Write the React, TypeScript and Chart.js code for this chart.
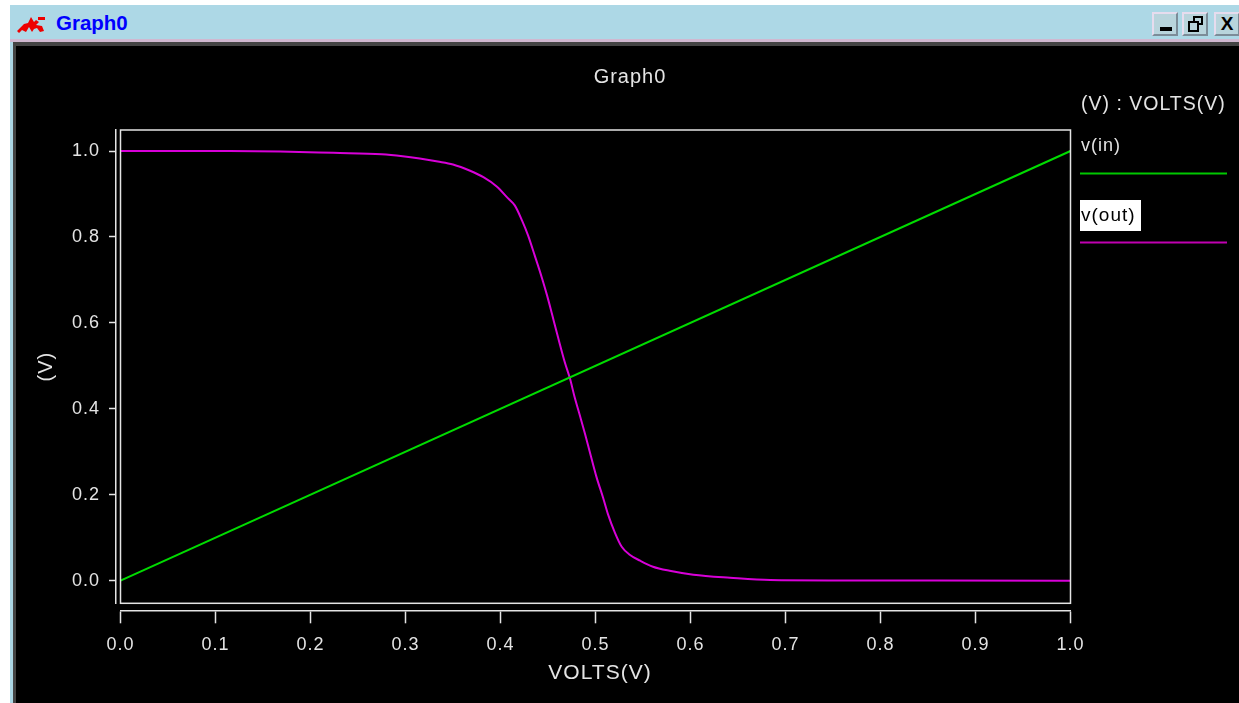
import React, { useEffect, useRef } from "react";
import { Chart, registerables } from "chart.js";

Chart.register(...registerables);

const windowTitle = "Graph0";
const chartTitle = "Graph0";
const xAxisTitle = "VOLTS(V)";
const yAxisTitle = "(V)";
const unitsLabel = "(V) : VOLTS(V)";
const xTicks = [0, 0.1, 0.2, 0.3, 0.4, 0.5, 0.6, 0.7, 0.8, 0.9, 1.0];
const yTicks = [0, 0.2, 0.4, 0.6, 0.8, 1.0];

const vInX = [0, 1];
const vInY = [0, 1];

const vOutX = [
  0, 0.115, 0.168, 0.224, 0.275, 0.297, 0.315, 0.334, 0.35, 0.368, 0.382, 0.396, 0.408, 0.415, 0.4226, 0.429,
  0.436, 0.4437, 0.449, 0.454, 0.4605, 0.468, 0.473, 0.478, 0.484, 0.489, 0.494, 0.501, 0.508, 0.513, 0.5205,
  0.5276, 0.536, 0.547, 0.5605, 0.578, 0.603, 0.6416, 0.684, 0.757, 1.0,
];
const vOutY = [
  1.0, 1.0, 0.999, 0.9958, 0.9926, 0.988, 0.9826, 0.9756, 0.9686, 0.954, 0.939, 0.9175, 0.8897, 0.8734, 0.8386,
  0.8037, 0.757, 0.704, 0.664, 0.6225, 0.567, 0.506, 0.4715, 0.4274, 0.381, 0.3415, 0.2997, 0.2416, 0.193, 0.1556,
  0.1115, 0.079, 0.0604, 0.0465, 0.0325, 0.023, 0.014, 0.007, 0.0016, 0.0007, 0,
];

const FG = "#e4e4e4";
const FONT = "Liberation Sans";

const pairs = (xs: number[], ys: number[]) => xs.map((x, i) => ({ x, y: ys[i] }));

const layoutPlugin = {
  id: "detachedAxes",
  afterLayout(chart: any) {
    // The axes sit apart from the plot frame, and the title is centred over the whole window.
    const x = chart.scales.x;
    x.top += 7;
    x.bottom += 7;
    chart.scales.y.right -= 4.5;
    chart.titleBlock.left += 94.75;
    chart.titleBlock.right += 94.75;
    const drawTitle = x.drawTitle;
    x.drawTitle = function () {
      this.left += 4.5;
      this.right += 4.5;
      drawTitle.call(this);
      this.left -= 4.5;
      this.right -= 4.5;
    };
  },
  beforeDraw(chart: any) {
    chart.ctx.letterSpacing = "1px";
  },
  afterDatasetsDraw(chart: any) {
    const { ctx, chartArea: a, data } = chart;
    ctx.save();
    ctx.strokeStyle = FG;
    ctx.lineWidth = 1.5;
    ctx.strokeRect(a.left, a.top, a.right - a.left, a.bottom - a.top);

    ctx.textBaseline = "middle";
    ctx.textAlign = "left";
    ctx.fillStyle = FG;
    ctx.font = `19.5px "${FONT}"`;
    ctx.fillText(unitsLabel, 1081, 105);

    const inSet = data.datasets[0];
    const outSet = data.datasets[1];
    ctx.font = `18px "${FONT}"`;
    ctx.fillText(inSet.label, 1081, 146);
    ctx.fillStyle = "#00c800";
    ctx.fillRect(1080, 172.5, 147, 2);

    ctx.fillStyle = "#ffffff";
    ctx.fillRect(1080, 200, 61, 31);
    ctx.fillStyle = "#000000";
    ctx.font = `19px "${FONT}"`;
    ctx.fillText(outSet.label, 1081, 216);
    ctx.fillStyle = "#c000b0";
    ctx.fillRect(1080, 241.5, 147, 2);
    ctx.restore();
  },
};

const Btn = ({ left, children }: { left: number; children: React.ReactNode }) => (
  <div
    style={{
      position: "absolute",
      left,
      top: 12,
      width: 26,
      height: 24,
      background: "#b8d4dc",
      borderTop: "2px solid #e6dcee",
      borderLeft: "2px solid #e6dcee",
      borderRight: "2px solid #7c8c98",
      borderBottom: "2px solid #7c8c98",
      boxSizing: "border-box",
      color: "#000",
      font: `bold 19px "${FONT}"`,
      lineHeight: "20px",
      textAlign: "center",
      overflow: "hidden",
    }}
  >
    {children}
  </div>
);

export default function App() {
  const ref = useRef<HTMLCanvasElement>(null);

  useEffect(() => {
    if (!ref.current) return;
    const chart = new Chart(ref.current, {
      type: "line",
      data: {
        datasets: [
          {
            label: "v(in)",
            data: pairs(vInX, vInY),
            borderColor: "#00dc00",
            borderWidth: 2,
            pointRadius: 0,
            tension: 0,
          },
          {
            label: "v(out)",
            data: pairs(vOutX, vOutY),
            borderColor: "#d800d8",
            borderWidth: 2,
            pointRadius: 0,
            cubicInterpolationMode: "monotone",
          },
        ],
      },
      options: {
        animation: false,
        responsive: false,
        devicePixelRatio: 1,
        layout: { padding: { left: 0, right: 168.5, top: 0, bottom: 0 } },
        plugins: {
          legend: { display: false },
          tooltip: { enabled: false },
          title: {
            display: true,
            text: chartTitle,
            color: FG,
            font: { family: FONT, size: 20, weight: "normal", lineHeight: 1.2 },
            padding: { top: 65, bottom: 41 },
          },
        },
        scales: {
          x: {
            type: "linear",
            min: 0,
            max: 1,
            afterFit: (s: any) => {
              s.height = 99.7;
            },
            afterBuildTicks: (s: any) => {
              s.ticks = xTicks.map((value) => ({ value }));
            },
            grid: { drawOnChartArea: false, drawTicks: true, tickLength: 13, tickColor: FG, tickWidth: 1.5 },
            border: { display: true, color: FG, width: 1.5 },
            ticks: {
              color: FG,
              padding: 11,
              autoSkip: false,
              maxRotation: 0,
              font: { family: FONT, size: 18 },
              callback: (v: any) => Number(v).toFixed(1),
            },
            title: {
              display: true,
              text: xAxisTitle,
              color: FG,
              font: { family: FONT, size: 21, lineHeight: 1.2 },
              padding: { top: 0, bottom: 24.5 },
            },
          },
          y: {
            type: "linear",
            min: -0.0526,
            max: 1.0489,
            afterFit: (s: any) => {
              s.width = 120.5;
            },
            afterBuildTicks: (s: any) => {
              s.ticks = yTicks.map((value) => ({ value }));
            },
            grid: { drawOnChartArea: false, drawTicks: true, tickLength: 7, tickColor: FG, tickWidth: 1.5 },
            border: { display: true, color: FG, width: 1.5 },
            ticks: {
              color: FG,
              padding: 9,
              autoSkip: false,
              font: { family: FONT, size: 18 },
              callback: (v: any) => Number(v).toFixed(1),
            },
            title: {
              display: true,
              text: yAxisTitle,
              color: FG,
              font: { family: FONT, size: 20, lineHeight: 1.2 },
              padding: { top: 34, bottom: 0 },
            },
          },
        },
      },
      plugins: [layoutPlugin],
    } as any);
    return () => chart.destroy();
  }, []);

  return (
    <div style={{ position: "absolute", left: 0, top: 0, width: 1239, height: 703, overflow: "hidden", background: "#fff" }}>
      <div style={{ position: "absolute", left: 10, top: 5, width: 1229, height: 698, background: "#add8e6" }} />
      <div style={{ position: "absolute", left: 10, top: 39, width: 1229, height: 3, background: "#d0b8d0" }} />
      <div style={{ position: "absolute", left: 13, top: 42, width: 1226, height: 661, background: "#444" }} />
      <div style={{ position: "absolute", left: 16, top: 46, width: 1223, height: 657, background: "#000" }} />
      <svg style={{ position: "absolute", left: 16, top: 14 }} width="30" height="20" viewBox="0 0 30 20">
        <path
          d="M1 17 L8 10 L12 9 L15 3 L18 8 L20 6 L23 8 L20 11 L26 12 L28 17 L24 18 L21 14 L18 15 L16 18 L13 13 L10 18 L6 16 L3 19 Z M22 3 H29 V6 H22 Z"
          fill="#ee0000"
        />
      </svg>
      <div
        style={{
          position: "absolute",
          left: 56,
          top: 11,
          color: "#0000ff",
          font: `bold 20.5px "${FONT}"`,
          lineHeight: "23px",
        }}
      >
        {windowTitle}
      </div>
      <Btn left={1152}>
        <div style={{ position: "absolute", left: 6, top: 13, width: 12, height: 4, background: "#000" }} />
      </Btn>
      <Btn left={1182}>
        <div style={{ position: "absolute", left: 9, top: 2, width: 10, height: 9, border: "2px solid #000", boxSizing: "border-box" }} />
        <div style={{ position: "absolute", left: 4, top: 7, width: 11, height: 11, border: "2px solid #000", boxSizing: "border-box", background: "#b8d4dc" }} />
      </Btn>
      <Btn left={1214}>X</Btn>
      <canvas ref={ref} width={1239} height={703} style={{ position: "absolute", left: 0, top: 0, display: "block" }} />
    </div>
  );
}
